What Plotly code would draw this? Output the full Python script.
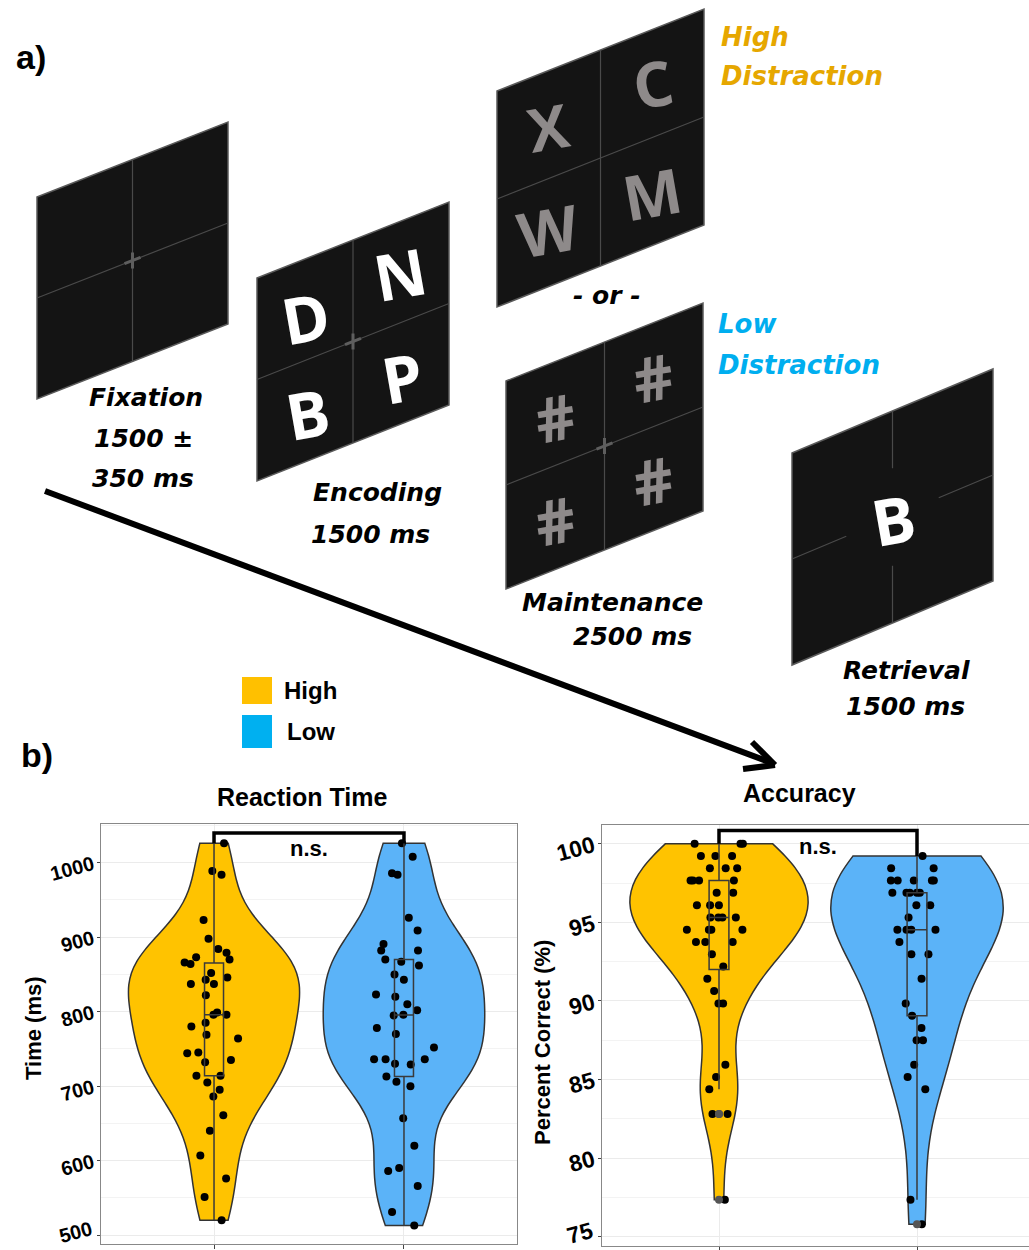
import numpy as np
import plotly.graph_objects as go

W, H = 1029, 1250

# ---------------- data ----------------
groups = ["High", "Low"]
rt_high = [1026, 989, 984, 923, 898, 884, 879, 873, 870, 866, 864, 852, 846, 843,
           837, 837, 822, 799, 796, 796, 785, 780, 769, 764, 745, 744, 735, 732,
           714, 714, 705, 695, 686, 661, 640, 607, 576, 551, 520]
rt_low = [1026, 1008, 986, 984, 926, 909, 891, 882, 882, 870, 867, 862, 850, 843,
          823, 820, 810, 802, 796, 795, 778, 770, 752, 736, 736, 736, 730, 729,
          713, 706, 700, 657, 620, 590, 586, 566, 531, 513]
acc_high = [100.0, 100.0, 100.0, 99.22, 99.22, 99.22, 98.44, 98.44, 98.44,
            97.66, 97.66, 97.66, 97.66, 96.88, 96.88, 96.09, 96.09, 96.09,
            95.31, 95.31, 95.31, 95.31, 94.53, 94.53, 94.53, 94.53, 93.75,
            93.75, 93.75, 92.97, 92.19, 91.41, 90.63, 89.84, 89.84, 85.94,
            85.16, 84.38, 82.81, 82.81, 77.34]
acc_low = [99.22, 98.44, 98.44, 97.66, 97.66, 97.66, 97.66, 97.66, 96.88, 96.88,
           96.88, 96.88, 96.88, 96.09, 96.09, 95.31, 94.53, 94.53, 94.53, 94.53,
           93.75, 92.97, 92.97, 91.41, 89.84, 89.06, 88.28, 87.50, 87.50, 85.94,
           85.16, 84.38, 77.34, 75.78]
rt_ticks = [500, 600, 700, 800, 900, 1000]
acc_ticks = [75, 80, 85, 90, 95, 100]
rt_bracket = 1040
acc_bracket = 100.85
sig_label = "n.s."

# ---------------- helpers ----------------
def px(x, y):
    return x / W, 1 - y / H


def nrd0(v, adjust=1.0):
    v = np.asarray(v, float)
    sd = v.std(ddof=1)
    q75, q25 = np.percentile(v, [75, 25])
    return adjust * 0.9 * min(sd, (q75 - q25) / 1.34) * len(v) ** -0.2


YEL = "#FFC300"
BLU = "#5BB3F8"
OUT = "#333333"

fig = go.Figure()


def add_group(vals, pos, xa, ya, vwidth, fill, adjust=1.0):
    fig.add_trace(go.Violin(
        y=vals, x0=pos, xaxis=xa, yaxis=ya, width=vwidth, scalemode="width",
        fillcolor=fill, line=dict(color=OUT, width=1.5), spanmode="hard",
        bandwidth=nrd0(vals, adjust), points="all", pointpos=0, jitter=0.42,
        marker=dict(color="black", size=8, line=dict(width=0)),
        box_visible=False, meanline_visible=False, showlegend=False,
        opacity=1))
    fig.add_trace(go.Box(
        y=vals, x0=pos, xaxis=xa, yaxis=ya, width=0.1,
        fillcolor="rgba(0,0,0,0)", line=dict(color="#3a3a3a", width=1.5),
        whiskerwidth=0, boxpoints="outliers", pointpos=0, jitter=0,
        marker=dict(color="#555555", size=8), showlegend=False))


add_group(rt_high, 1, "x", "y", 0.9, YEL)
add_group(rt_low, 2, "x", "y", 0.85, BLU)
add_group(acc_high, 1, "x2", "y2", 0.9, YEL, 1.3)
add_group(acc_low, 2, "x2", "y2", 0.87, BLU, 1.4)

# significance brackets
for xa, ya, hi, lo, yb in [("x", "y", rt_high, rt_low, rt_bracket),
                           ("x2", "y2", acc_high, acc_low, acc_bracket)]:
    fig.add_trace(go.Scatter(x=[1, 1, 2, 2], y=[max(hi), yb, yb, max(lo)],
                             mode="lines", line=dict(color="black", width=3.5),
                             xaxis=xa, yaxis=ya, showlegend=False, hoverinfo="skip"))

annotations = []
shapes = []

# n.s. labels
for xr, yr, yb in [("x", "y", rt_bracket), ("x2", "y2", acc_bracket)]:
    annotations.append(dict(x=1.5, y=yb, xref=xr, yref=yr, text=sig_label, showarrow=False,
                            yanchor="top", yshift=-1,
                            font=dict(family="Liberation Sans", size=22, color="black", weight="bold")))

grid = "#EBEBEB"
axfont_rt = dict(family="Liberation Sans", size=20, color="black", weight="bold")
axfont_acc = dict(family="Liberation Sans", size=23, color="black", weight="bold")

xcommon = dict(tickvals=[1, 2], ticktext=["", ""], ticks="outside", ticklen=4,
               tickcolor="#444", showgrid=True, gridcolor=grid, zeroline=False,
               showline=True, linecolor="#888", linewidth=1.2, fixedrange=True)

# accuracy x-axis: category 1 at 719 px, category 2 at 917 px, panel runs 602 px .. page edge
acc_left, acc_c1, acc_c2 = 602, 719, 917
acc_unit = acc_c2 - acc_c1
acc_range = [1 - (acc_c1 - acc_left) / acc_unit, 1 + (W - acc_c1) / acc_unit]

# the lowest tick label sits at the page edge: it is written as an annotation (kept inside the page)
rt_text = [""] + [str(t) for t in rt_ticks[1:]]
acc_text = [""] + [str(t) for t in acc_ticks[1:]]

fig.update_layout(
    width=W, height=H, margin=dict(l=0, r=0, t=0, b=0),
    paper_bgcolor="white", plot_bgcolor="white", showlegend=False,
    violinmode="overlay", boxmode="overlay",
    xaxis=dict(domain=[101 / W, 517 / W], range=[0.405, 2.595], anchor="y",
               mirror=True, **xcommon),
    yaxis=dict(domain=[1 - 1244 / H, 1 - 824 / H], range=[488, 1052], anchor="x",
               tickvals=rt_ticks, ticktext=rt_text, tickangle=-15, tickfont=axfont_rt,
               ticks="outside", ticklen=3, tickcolor="#444",
               showgrid=True, gridcolor=grid, gridwidth=1.1, zeroline=False,
               minor=dict(dtick=50, tick0=450, showgrid=True, gridcolor="#F3F3F3", gridwidth=0.8, ticks=""),
               showline=True, linecolor="#888", linewidth=1.2, mirror=True),
    xaxis2=dict(domain=[602 / W, 1.0], range=acc_range, anchor="y2",
                mirror=True, **xcommon),
    yaxis2=dict(domain=[1 - 1246 / H, 1 - 825 / H], range=[74.4, 101.2], anchor="x2",
                tickvals=acc_ticks, ticktext=acc_text, tickangle=-15, tickfont=axfont_acc,
                ticks="outside", ticklen=3, tickcolor="#444",
                showgrid=True, gridcolor=grid, gridwidth=1.1, zeroline=False,
                minor=dict(dtick=2.5, tick0=72.5, showgrid=True, gridcolor="#F3F3F3", gridwidth=0.8, ticks=""),
                showline=True, linecolor="#888", linewidth=1.2, mirror=False),
)

annotations.append(dict(x=(101 - 5) / W, xref="paper", y=rt_ticks[0], yref="y",
                        text=str(rt_ticks[0]), showarrow=False, xanchor="right", yanchor="middle",
                        textangle=-15, yshift=3, borderpad=0, font=axfont_rt))
annotations.append(dict(x=(602 - 5) / W, xref="paper", y=acc_ticks[0], yref="y2",
                        text=str(acc_ticks[0]), showarrow=False, xanchor="right", yanchor="middle",
                        textangle=-15, yshift=4, borderpad=0, font=axfont_acc))

# ---------------- panel b titles ----------------
tfont = dict(family="Liberation Sans", size=25, color="black", weight="bold")
afont = dict(family="Liberation Sans", size=22, color="black", weight="bold")
for txt, x, y, f, ang in [("Reaction Time", 302, 797, tfont, 0),
                          ("Accuracy", 799, 793, tfont, 0),
                          ("Time (ms)", 33, 1028, afont, -90),
                          ("Percent Correct (%)", 542, 1043, afont, -90)]:
    X, Y = px(x, y)
    annotations.append(dict(x=X, y=Y, xref="paper", yref="paper", text=txt, showarrow=False,
                            xanchor="center", yanchor="middle", textangle=ang, font=f))

# ---------------- legend ----------------
for (label, col, y0, y1, tx) in [("High", "#FFC000", 677, 704, 282), ("Low", "#00B0F0", 715, 748, 285)]:
    X0, Y0 = px(242, y0)
    X1, Y1 = px(272, y1)
    shapes.append(dict(type="rect", xref="paper", yref="paper", x0=X0, x1=X1, y0=Y1, y1=Y0,
                       fillcolor=col, line=dict(width=0)))
    X, Y = px(tx, (y0 + y1) / 2)
    annotations.append(dict(x=X, y=Y, xref="paper", yref="paper", text=label, showarrow=False,
                            xanchor="left", yanchor="middle",
                            font=dict(family="Liberation Sans", size=24, color="black", weight="bold")))

# panel letters
for txt, x, y in [("a)", 31, 57), ("b)", 37, 755)]:
    X, Y = px(x, y)
    annotations.append(dict(x=X, y=Y, xref="paper", yref="paper", text=txt, showarrow=False,
                            xanchor="center", yanchor="middle",
                            font=dict(family="Liberation Sans", size=34, color="black", weight="bold")))

# ---------------- panel a: task diagram ----------------
screens = [
    dict(xl=37, xr=228, yt=197, yb=399, s=75, cross=True, gap=False),
    dict(xl=257, xr=449, yt=278, yb=481, s=76, cross=True, gap=False),
    dict(xl=497, xr=704, yt=91, yb=307, s=82, cross=False, gap=False),
    dict(xl=506, xr=703, yt=381, yb=589, s=78, cross=True, gap=False),
    dict(xl=792, xr=993, yt=453, yb=665, s=84, cross=False, gap=True),
]


def path(points):
    segs = []
    for i, (x, y) in enumerate(points):
        X, Y = px(x, y)
        segs.append(("M" if i == 0 else "L") + f"{X:.5f},{Y:.5f}")
    return " ".join(segs)


def line(p0, p1, color, width):
    X0, Y0 = px(*p0)
    X1, Y1 = px(*p1)
    return dict(type="line", xref="paper", yref="paper", x0=X0, y0=Y0, x1=X1, y1=Y1,
                line=dict(color=color, width=width))


def lerp(a, b, t):
    return (a[0] + (b[0] - a[0]) * t, a[1] + (b[1] - a[1]) * t)


for sc in screens:
    xl, xr, yt, yb, s = sc["xl"], sc["xr"], sc["yt"], sc["yb"], sc["s"]
    shapes.append(dict(type="path", xref="paper", yref="paper",
                       path=path([(xl, yt), (xr, yt - s), (xr, yb - s), (xl, yb)]) + " Z",
                       fillcolor="#141414", line=dict(color="#5a5a5a", width=1.5)))
    xm = (xl + xr) / 2
    vt, vb = (xm, yt - s / 2), (xm, yb - s / 2)
    hl, hr = (xl, (yt + yb) / 2), (xr, (yt + yb) / 2 - s)
    lc = "#4a4a4a"
    if sc["gap"]:
        shapes.append(line(vt, lerp(vt, vb, 0.27), lc, 1.2))
        shapes.append(line(lerp(vt, vb, 0.73), vb, lc, 1.2))
        shapes.append(line(hl, lerp(hl, hr, 0.27), lc, 1.2))
        shapes.append(line(lerp(hl, hr, 0.73), hr, lc, 1.2))
    else:
        shapes.append(line(vt, vb, lc, 1.2))
        shapes.append(line(hl, hr, lc, 1.2))
    if sc["cross"]:
        cx, cy = xm, (yt + yb) / 2 - s / 2
        k = s / (xr - xl)
        shapes.append(line((cx, cy - 8), (cx, cy + 8), "#5e5e5e", 3))
        shapes.append(line((cx - 8, cy + 8 * k), (cx + 8, cy - 8 * k), "#5e5e5e", 3))

# stimulus characters
stim = [("D", 305, 318, "white", 64), ("N", 400, 273, "white", 64),
        ("B", 307, 413, "white", 64), ("P", 402, 377, "white", 64),
        ("X", 548, 127, "#8e8a8a", 60), ("C", 653, 83, "#8e8a8a", 62),
        ("W", 548, 230, "#8e8a8a", 62), ("M", 652, 193, "#8e8a8a", 62),
        ("#", 555, 417, "#8e8a8a", 62), ("#", 653, 377, "#8e8a8a", 62),
        ("#", 555, 520, "#8e8a8a", 62), ("#", 653, 480, "#8e8a8a", 62),
        ("B", 893, 520, "white", 64)]
for ch, x, y, col, sz in stim:
    X, Y = px(x, y)
    annotations.append(dict(x=X, y=Y, xref="paper", yref="paper", text=ch, showarrow=False,
                            xanchor="center", yanchor="middle", textangle=-10,
                            font=dict(family="Open Sans", size=sz, color=col, weight="bold")))

# captions
lab_font = dict(family="DejaVu Sans", size=25, color="black", weight="bold", style="italic")
for txt, x, y in [("Fixation", 146, 397), ("1500 ±", 143, 439), ("350 ms", 143, 478),
                  ("Encoding", 377, 493), ("1500 ms", 370, 535), ("- or -", 607, 295),
                  ("Maintenance", 612, 603), ("2500 ms", 632, 636),
                  ("Retrieval", 906, 670), ("1500 ms", 905, 706)]:
    X, Y = px(x, y)
    annotations.append(dict(x=X, y=Y, xref="paper", yref="paper", text=txt, showarrow=False,
                            xanchor="center", yanchor="middle", borderpad=0, font=lab_font))

for txt, x, y, col in [("High", 720, 37, "#E6A700"), ("Distraction", 720, 76, "#E6A700"),
                       ("Low", 717, 324, "#00AEEF"), ("Distraction", 717, 365, "#00AEEF")]:
    X, Y = px(x, y)
    annotations.append(dict(x=X, y=Y, xref="paper", yref="paper", text=txt, showarrow=False,
                            xanchor="left", yanchor="middle", borderpad=0,
                            font=dict(family="DejaVu Sans", size=26, color=col, weight="bold", style="italic")))

# timeline arrow
shapes.append(line((45, 491), (772, 763), "black", 6))
shapes.append(line((775, 765), (752, 742), "black", 6))
shapes.append(line((775, 765), (743, 769), "black", 6))

fig.update_layout(shapes=shapes, annotations=annotations)
fig.write_html("out.html", config={"displayModeBar": False},
               post_script="document.body.style.margin='0px';document.body.style.overflow='hidden';")
